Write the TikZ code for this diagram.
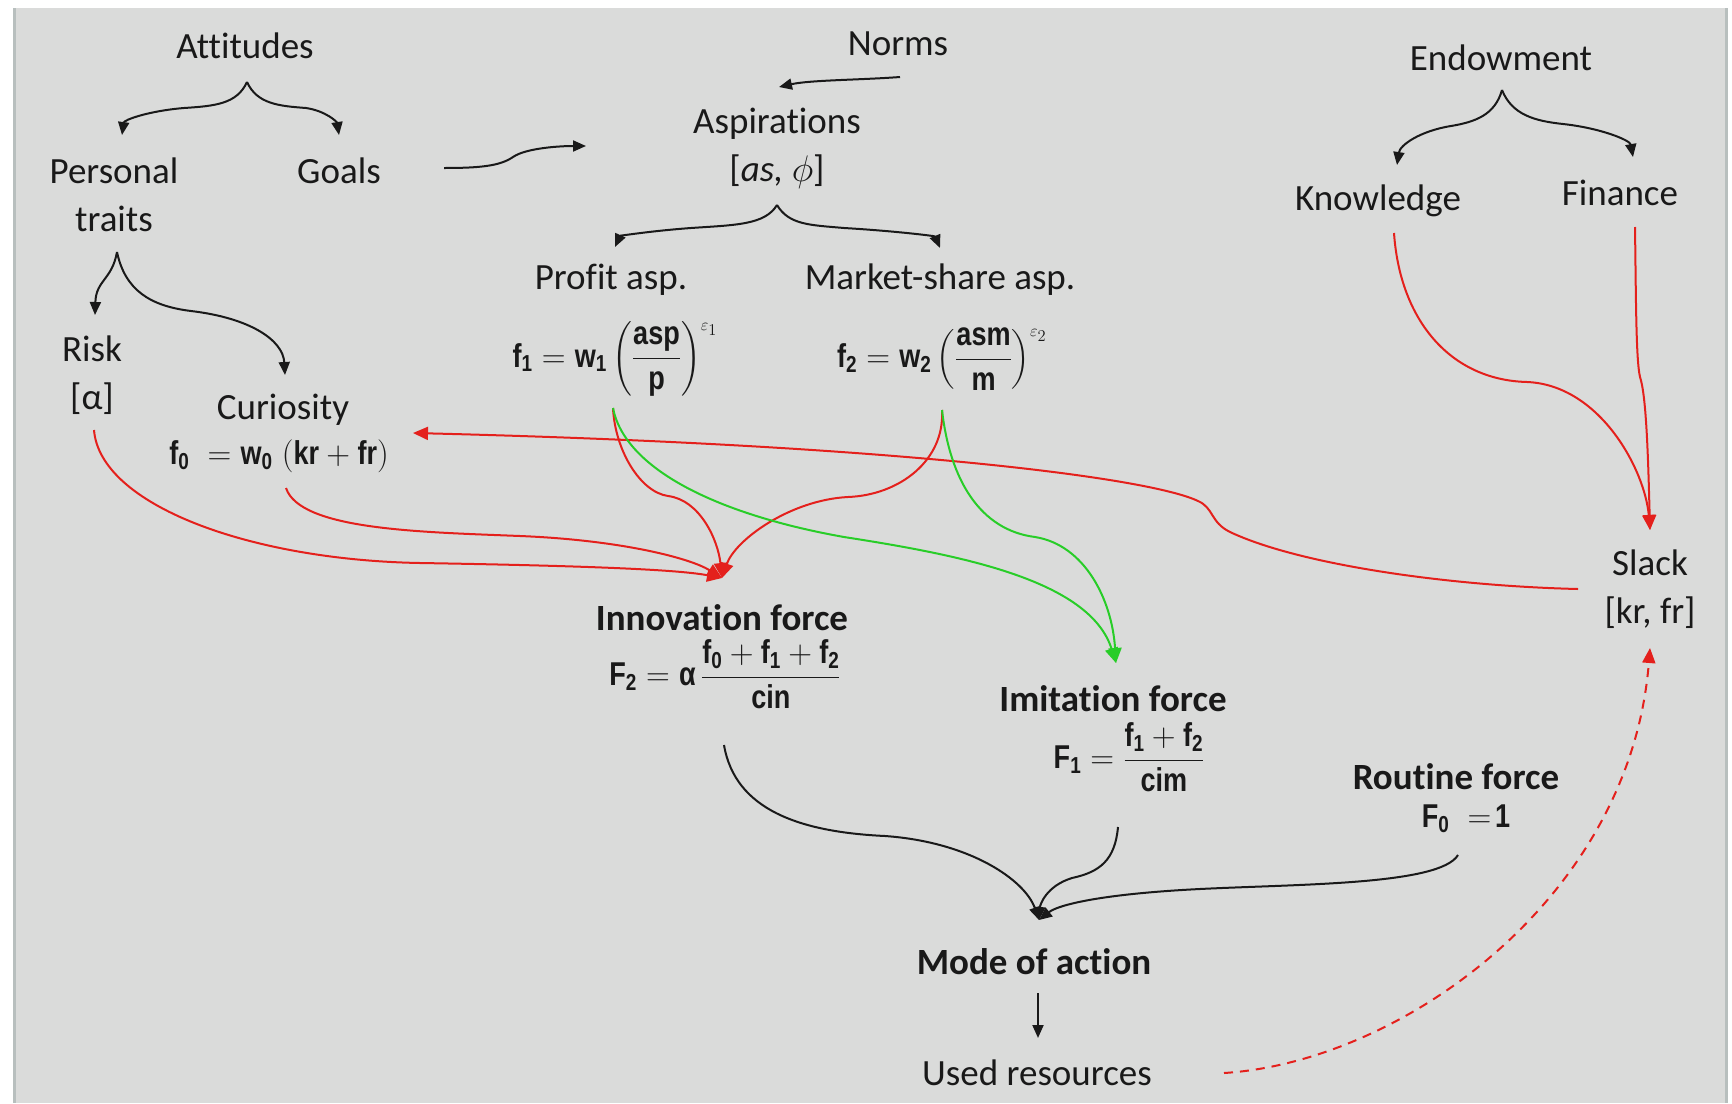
\RequirePackage{fix-cm}
\documentclass[tikz,border=0pt]{standalone}
\usepackage{amsmath}
\usepackage{fontspec}
\setmainfont[Ligatures=NoCommon]{Carlito}
\newfontfamily\eqf[FakeStretch=0.82]{Liberation Sans}
\usetikzlibrary{arrows.meta}
\definecolor{bgc}{RGB}{218,219,218}
\definecolor{edgec}{RGB}{184,191,190}
\definecolor{rd}{RGB}{228,32,28}
\definecolor{gn}{RGB}{40,205,40}
\definecolor{ink}{RGB}{25,25,25}
\newcommand\tx[1]{\text{#1}}
\tikzset{
 lbl/.style={inner sep=0pt, font=\fontsize{37}{48}\selectfont, text=ink, align=center},
 blbl/.style={inner sep=0pt, font=\fontsize{37}{48}\selectfont\bfseries, text=ink, align=center},
 eqn/.style={inner sep=0pt, font=\eqf\bfseries\fontsize{33}{40}\selectfont, text=ink},
 blk/.style={draw=ink, line width=2pt, -{Triangle[length=13pt,width=11pt]}},
 redc/.style={draw=rd, line width=2pt, -{Triangle[length=15pt,width=13pt]}},
 grnc/.style={draw=gn, line width=2pt, -{Triangle[length=15pt,width=13pt]}},
 dshc/.style={redc, dash pattern=on 9pt off 7pt},
}
\begin{document}
\begin{tikzpicture}[x=1pt,y=-1pt]
\useasboundingbox (0,0) rectangle (1732,1103);
\fill[white] (0,0) rectangle (1732,1103);
\fill[bgc] (13,8) rectangle (1728,1103);
\fill[edgec] (13,8) rectangle (16,1103);
\fill[edgec] (1725,8) rectangle (1728,1103);

% text nodes
\node[lbl] (att) at (245,46) {Attitudes};
\node[lbl] (pers) at (114,195) {Personal\\traits};
\node[lbl] (goals) at (339,171) {Goals};
\node[lbl] (norms) at (898,44) {Norms};
\node[lbl] (asp) at (777,148) {Aspirations\\{[}\textit{as,} $\phi${]}};
\node[lbl] (endow) at (1501,58) {Endowment};
\node[lbl] (know) at (1378,201) {Knowledge};
\node[lbl] (fin) at (1620,193) {Finance};
\node[lbl] (profit) at (611,280) {Profit asp.};
\node[lbl] (mshare) at (940,280) {Market-share asp.};
\node[eqn] (fone) at (615,359) {$\tx{f}_{\tx{1}}=\tx{w}_{\tx{1}}\left(\dfrac{\tx{asp}}{\tx{p}}\right)^{\scriptscriptstyle\varepsilon_1}$};
\node[eqn] (ftwo) at (942,359) {$\tx{f}_{\tx{2}}=\tx{w}_{\tx{2}}\left(\dfrac{\tx{asm}}{\tx{m}}\right)^{\scriptscriptstyle\varepsilon_2}$};
\node[lbl] (risk) at (92,375) {Risk\\{[}α{]}};
\node[lbl] (cur) at (283,410) {Curiosity};
\node[eqn] (fzero) at (279,456) {$\tx{f}_{\tx{0}}\;=\tx{w}_{\tx{0}}\;(\tx{kr}+\tx{fr})$};
\node[blbl] (innov) at (722,618) {Innovation force};
\node[eqn] (Ftwo) at (725,674) {$\tx{F}_{\tx{2}}=\tx{α}\,\dfrac{\tx{f}_{\tx{0}}+\tx{f}_{\tx{1}}+\tx{f}_{\tx{2}}}{\tx{cin}}$};
\node[blbl] (imit) at (1113,699) {Imitation force};
\node[eqn] (Fone) at (1129,757) {$\tx{F}_{\tx{1}}=\dfrac{\tx{f}_{\tx{1}}+\tx{f}_{\tx{2}}}{\tx{cim}}$};
\node[blbl] (routine) at (1456,777) {Routine force};
\node[eqn] (Fzero) at (1466,819) {$\tx{F}_{\tx{0}}\;=\!\tx{1}$};
\node[lbl] (slack) at (1650,589) {Slack\\{[}kr, fr{]}};
\node[blbl] (mode) at (1034,962) {Mode of action};
\node[lbl] (used) at (1037,1073) {Used resources};

% connector end points
\coordinate (attB) at (247,82);
\coordinate (persT) at (122,135);
\coordinate (goalsT) at (339,135);
\coordinate (goalsR) at (444,168);
\coordinate (aspL) at (586,146);
\coordinate (normsB) at (900,77);
\coordinate (aspT) at (779,87);
\coordinate (aspB) at (777,205);
\coordinate (profT) at (615,247);
\coordinate (msT) at (940,248);
\coordinate (endB) at (1502,90);
\coordinate (knowT) at (1397,165);
\coordinate (finT) at (1633,157);
\coordinate (persB) at (117,252);
\coordinate (riskT) at (95,315);
\coordinate (curT) at (285,375);
\coordinate (riskB) at (94,430);
\coordinate (curB) at (286,488);
\coordinate (curR) at (413,433);
\coordinate (foneB) at (613,408);
\coordinate (ftwoB) at (942,410);
\coordinate (innT) at (722,578);
\coordinate (imiT) at (1116,663);
\coordinate (knowB) at (1394,233);
\coordinate (finB) at (1635,227);
\coordinate (slackT) at (1650,530);
\coordinate (slackL) at (1578,589);
\coordinate (slackB) at (1650,648);
\coordinate (usedR) at (1224,1073);
\coordinate (innB) at (724,745);
\coordinate (imiB) at (1118,827);
\coordinate (rouB) at (1458,855);
\coordinate (modeT) at (1039,920);
\coordinate (modeB) at (1038,993);
\coordinate (usedT) at (1038,1038);

% black braces
\draw[blk] (attB) .. controls (237,104) and (215,106) .. (184,108) .. controls (148,111) and (124,120) .. (persT);
\draw[blk] (attB) .. controls (257,104) and (279,106) .. (306,108) .. controls (326,111) and (337,122) .. (goalsT);
\draw[blk] (aspB) .. controls (765,225) and (735,225) .. (691,228) .. controls (650,231) and (620,236) .. (profT);
\draw[blk] (aspB) .. controls (789,225) and (810,225) .. (844,228) .. controls (895,231) and (935,236) .. (msT);
\draw[blk] (endB) .. controls (1495,115) and (1475,122) .. (1451,126) .. controls (1420,131) and (1400,145) .. (knowT);
\draw[blk] (endB) .. controls (1512,115) and (1535,121) .. (1563,124) .. controls (1600,128) and (1630,140) .. (finT);
\draw[blk] (persB) .. controls (112,280) and (96,280) .. (riskT);
\draw[blk] (persB) .. controls (125,290) and (150,306) .. (191,311) .. controls (250,318) and (283,340) .. (curT);
% black arrows
\draw[blk] (goalsR) .. controls (480,168) and (500,166) .. (513,157) .. controls (526,148) and (560,146) .. (aspL);
\draw[blk] (normsB) .. controls (860,80) and (810,80) .. (aspT);
\draw[blk] (innB) .. controls (735,810) and (800,832) .. (885,836) .. controls (970,842) and (1025,880) .. (modeT);
\draw[blk] (imiB) .. controls (1115,860) and (1100,872) .. (1072,878) .. controls (1046,886) and (1040,905) .. (modeT);
\draw[blk] (rouB) .. controls (1440,885) and (1300,884) .. (1200,889) .. controls (1100,894) and (1058,905) .. (modeT);
\draw[blk] (modeB) -- (usedT);

% red
\draw[redc] (riskB) .. controls (100,505) and (250,560) .. (420,563) .. controls (600,566) and (680,570) .. (innT);
\draw[redc] (curB) .. controls (300,530) and (420,532) .. (520,536) .. controls (620,540) and (690,558) .. (innT);
\draw[redc] (foneB) .. controls (615,450) and (640,492) .. (668,496) .. controls (700,500) and (718,540) .. (innT);
\draw[redc] (ftwoB) .. controls (945,460) and (900,495) .. (848,497) .. controls (790,500) and (735,540) .. (innT);
\draw[redc] (knowB) .. controls (1400,320) and (1450,380) .. (1527,382) .. controls (1600,385) and (1645,470) .. (slackT);
\draw[redc] (finB) .. controls (1636,300) and (1636,360) .. (1640,377) .. controls (1646,395) and (1648,450) .. (slackT);
\draw[redc] (slackL) .. controls (1450,586) and (1300,565) .. (1230,532) .. controls (1210,522) and (1214,508) .. (1198,501) .. controls (1150,478) and (900,445) .. (curR);
\draw[dshc] (usedR) .. controls (1400,1062) and (1630,900) .. (slackB);

% green
\draw[grnc] (foneB) .. controls (625,470) and (720,515) .. (844,537) .. controls (960,555) and (1090,580) .. (imiT);
\draw[grnc] (ftwoB) .. controls (950,480) and (980,530) .. (1035,537) .. controls (1085,545) and (1112,600) .. (imiT);
\end{tikzpicture}
\end{document}
